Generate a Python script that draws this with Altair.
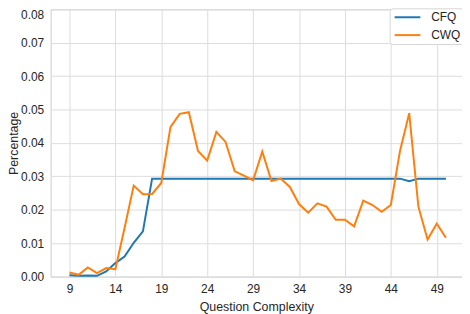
import altair as alt
import pandas as pd

complexity = list(range(9, 51))
cfq = [0.0004, 0.0002, 0.0003, 0.0002, 0.0015, 0.0040, 0.0060, 0.0101, 0.0135, 0.0293,
       0.0293, 0.0293, 0.0293, 0.0293, 0.0293, 0.0293, 0.0293, 0.0293, 0.0293, 0.0293,
       0.0293, 0.0293, 0.0293, 0.0293, 0.0293, 0.0293, 0.0293, 0.0293, 0.0293, 0.0293,
       0.0293, 0.0293, 0.0293, 0.0293, 0.0293, 0.0293, 0.0293, 0.0285, 0.0293, 0.0293,
       0.0293, 0.0293]
cwq = [0.0012, 0.0005, 0.0027, 0.0010, 0.0025, 0.0022, 0.0145, 0.0272, 0.0246, 0.0247,
       0.0280, 0.0447, 0.0487, 0.0492, 0.0376, 0.0347, 0.0433, 0.0403, 0.0315, 0.0302,
       0.0288, 0.0374, 0.0286, 0.0293, 0.0268, 0.0217, 0.0191, 0.0219, 0.0209, 0.0170,
       0.0170, 0.0150, 0.0227, 0.0214, 0.0194, 0.0214, 0.0376, 0.0489, 0.0209, 0.0111,
       0.0158, 0.0116]
series = ["CFQ", "CWQ"]
colors = ["#1f77b4", "#ff7f0e"]
x_ticks = [9, 14, 19, 24, 29, 34, 39, 44, 49]
y_ticks = [0.0, 0.01, 0.02, 0.03, 0.04, 0.05, 0.06, 0.07, 0.08]

df = pd.concat([
    pd.DataFrame({"Question Complexity": complexity, "Percentage": cfq, "Dataset": series[0]}),
    pd.DataFrame({"Question Complexity": complexity, "Percentage": cwq, "Dataset": series[1]}),
])

FONT = "Liberation Sans"

chart = alt.Chart(df).mark_line(strokeWidth=2).encode(
    x=alt.X("Question Complexity:Q",
            scale=alt.Scale(domain=[6.95, 51.75], nice=False, zero=False),
            axis=alt.Axis(values=x_ticks, title="Question Complexity", labelPadding=7,
                          titlePadding=6)),
    y=alt.Y("Percentage:Q",
            scale=alt.Scale(domain=[0, 0.08], nice=False),
            axis=alt.Axis(values=y_ticks, format=".2f", title="Percentage", labelPadding=7,
                          titlePadding=0,
                          labelBaseline={"condition": {"test": "datum.value > 0.075",
                                                       "value": "top"},
                                         "value": "middle"})),
    color=alt.Color("Dataset:N",
                    scale=alt.Scale(domain=series, range=colors),
                    legend=alt.Legend(title=None, orient="none", legendX=342, legendY=-1,
                                      symbolType="M-0.8,0H4.4", symbolSize=100,
                                      symbolStrokeWidth=2,
                                      labelOffset=27, padding=3, rowPadding=6,
                                      strokeColor="#d6d6d6", fillColor="white", cornerRadius=3,
                                      labelFontSize=12, labelFont=FONT, labelColor="#262626")),
).properties(
    width=415, height=269.5,
    autosize=alt.AutoSizeParams(type="none"),
    padding={"left": 43, "top": 0, "right": 0, "bottom": 36},
).configure_view(
    stroke="#cccccc", strokeWidth=1
).configure_axis(
    grid=True, gridColor="#dddddd", gridWidth=1, ticks=False, domain=False,
    labelFont=FONT, labelFontSize=12, labelColor="#262626",
    titleFont=FONT, titleFontSize=12.5, titleFontWeight="normal", titleColor="#262626",
)

chart.save("out.html", embed_options={"renderer": "svg", "actions": False})
